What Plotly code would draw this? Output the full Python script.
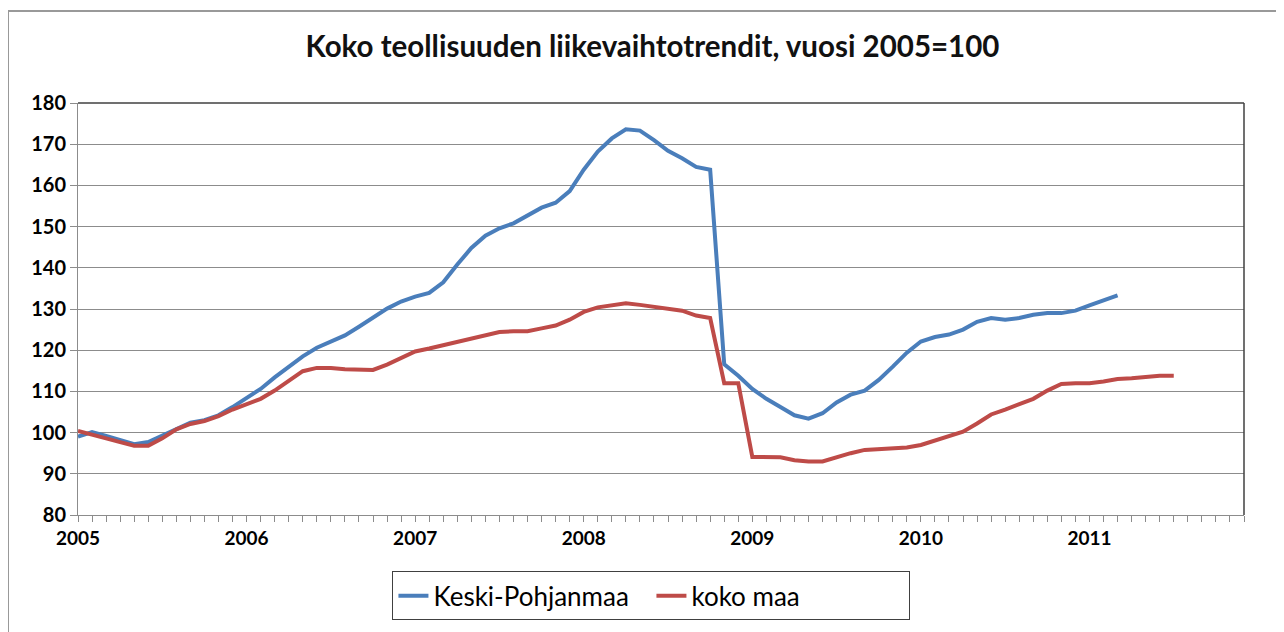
import plotly.graph_objects as go

years = ["2005", "2006", "2007", "2008", "2009", "2010", "2011"]
n_months = 84

keski_pohjanmaa = [99.0, 100.1, 99.2, 98.1, 97.2, 97.7, 99.3, 101.0, 102.4, 103.0,
                   104.2, 106.2, 108.4, 110.6, 113.4, 116.0, 118.5, 120.6, 122.1, 123.6,
                   125.7, 127.8, 130.1, 131.8, 133.0, 133.9, 136.5, 140.8, 144.8, 147.8,
                   149.6, 150.8, 152.6, 154.6, 155.8, 158.6, 163.8, 168.2, 171.4, 173.6,
                   173.3, 171.0, 168.4, 166.6, 164.5, 163.8, 116.6, 113.8, 110.6, 108.2,
                   106.2, 104.2, 103.4, 104.7, 107.3, 109.2, 110.2, 112.8, 116.0, 119.4,
                   122.1, 123.2, 123.8, 125.0, 126.9, 127.8, 127.4, 127.8, 128.6, 129.0,
                   129.0, 129.6, 130.9, 132.1, 133.3]

koko_maa = [100.4, 99.6, 98.6, 97.7, 96.8, 96.8, 98.6, 100.8, 102.1, 102.8,
            104.0, 105.6, 107.0, 108.2, 110.2, 112.6, 114.9, 115.7, 115.7, 115.4,
            115.2, 115.2, 116.5, 118.0, 119.7, 120.4, 121.2, 122.1, 123.0, 123.8,
            124.4, 124.6, 124.6, 125.3, 126.0, 127.4, 129.3, 130.4, 130.9, 131.4,
            131.0, 130.5, 130.2, 129.6, 128.4, 127.8, 112.0, 112.0, 94.1, 94.1,
            94.0, 93.3, 93.0, 93.0, 94.1, 95.0, 95.8, 96.0, 96.0, 96.4,
            97.0, 98.0, 99.0, 100.2, 102.2, 104.4, 105.6, 106.8, 108.2, 110.2,
            111.8, 112.0, 112.0, 112.4, 113.0, 113.2, 113.6, 113.8, 113.8]

tickvals = list(range(n_months))
ticktext = [years[i // 12] if i % 12 == 0 else "" for i in tickvals]

fig = go.Figure()
fig.add_trace(go.Scatter(x=list(range(len(keski_pohjanmaa))), y=keski_pohjanmaa,
                         mode="lines", name="Keski-Pohjanmaa",
                         line=dict(color="#4A7EBB", width=4)))
fig.add_trace(go.Scatter(x=list(range(len(koko_maa))), y=koko_maa,
                         mode="lines", name="koko maa",
                         line=dict(color="#BE4B48", width=4)))

W, H = 1276, 624
L, T, PW, PH = 70, 95, 1166, 417
grid = "#8C8C8C"
fig.update_layout(
    width=W, height=H,
    margin=dict(l=L, r=W - L - PW, t=T, b=H - T - PH),
    paper_bgcolor="white", plot_bgcolor="white",
    font=dict(family="Lato", color="black"),
    title=dict(text="Koko teollisuuden liikevaihtotrendit, vuosi 2005=100",
               x=0.4927, xref="paper", xanchor="center",
               y=1 - 39 / H, yref="container", yanchor="middle",
               font=dict(family="Lato", size=29.5, color="#111111", weight="bold")),
    xaxis=dict(range=[0, n_months - 1], tickmode="array", tickvals=tickvals,
               ticktext=ticktext, ticks="outside", ticklen=6, tickcolor=grid,
               showline=True, linecolor=grid, linewidth=1, showgrid=False,
               zeroline=False,
               tickfont=dict(family="Lato", size=19, color="black", weight="bold")),
    yaxis=dict(range=[80, 180], dtick=10, ticks="outside", ticklen=7,
               tickcolor=grid, showline=True, linecolor=grid, linewidth=1,
               showgrid=True, gridcolor=grid, gridwidth=1, zeroline=False,
               tickfont=dict(family="Lato", size=20, color="black", weight="bold")),
    legend=dict(orientation="h", x=0.4918, xanchor="center", y=-0.1367, yanchor="top",
                bordercolor="#404040", borderwidth=1, bgcolor="white",
                font=dict(family="Lato", size=26, color="black"),
                entrywidth=213, entrywidthmode="pixels", tracegroupgap=0),
    showlegend=True,
)

# plot-area top and right borders (darker), outer chart frame
fig.add_shape(type="line", xref="paper", yref="paper", x0=0, x1=1, y0=1, y1=1,
              line=dict(color="#404040", width=1.5))
fig.add_shape(type="line", xref="paper", yref="paper", x0=1, x1=1, y0=0, y1=1,
              line=dict(color="#404040", width=1.5))
fig.add_shape(type="rect", xref="paper", yref="paper",
              x0=(0 - L) / PW, x1=(W + 10 - L) / PW,
              y0=-0.35, y1=(PH + T - 2) / PH,
              line=dict(color="#999999", width=2), layer="below")

fig.write_html("out.html")
